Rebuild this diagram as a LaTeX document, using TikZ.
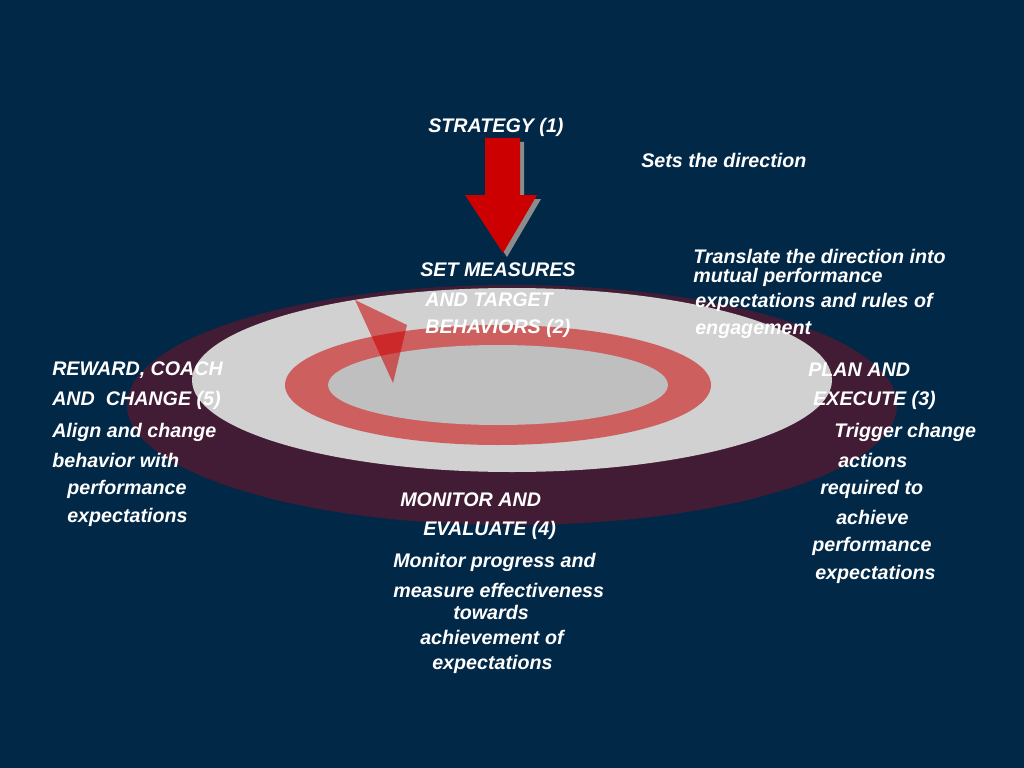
\documentclass[tikz,border=0pt]{standalone}
\usepackage{fontspec}
\setmainfont{Liberation Sans}
\definecolor{navy}{RGB}{2,40,72}
\definecolor{maroon}{RGB}{66,28,52}
\definecolor{ringred}{RGB}{205,95,95}
\definecolor{arrowred}{RGB}{204,0,0}
\begin{document}
\begin{tikzpicture}[x=0.025cm,y=-0.025cm,
	lbl/.style={anchor=west,text=white,inner sep=0pt,font=\fontsize{14}{16}\selectfont\bfseries\itshape},
]
	\fill[navy] (0,0) rectangle (1024,768);
	% rings
	\fill[maroon] (512,405) ellipse [x radius=385,y radius=120];
	\fill[black!18] (512,380) ellipse [x radius=320,y radius=92];
	\fill[ringred] (498,385) ellipse [x radius=213,y radius=60];
	\fill[black!25] (498,385) ellipse [x radius=170,y radius=40];
	\fill[arrowred,opacity=0.55] (355,300) -- (407,325) -- (393,383) -- cycle;
	% strategy arrow
	\fill[black!45] (489,142) -- (524,142) -- (524,199) -- (541,199) -- (507,257) -- (469,199) -- (489,199) -- cycle;
	\fill[arrowred] (485,138) -- (520,138) -- (520,195) -- (537,195) -- (503,253) -- (465,195) -- (485,195) -- cycle;
	% texts
	\foreach \x/\y/\t [count=\i] in {
		428/127/{STRATEGY (1)}, 641/160/{Sets the direction},
		693/256/{Translate the direction into}, 693/277/{mutual performance},
		695/302/{expectations and rules of}, 695/330/{engagement},
		420/270/{SET MEASURES}, 425/300/{AND TARGET}, 425/328/{BEHAVIORS (2)},
		52/370/{REWARD, COACH}, 52/400/{AND \ CHANGE (5)}, 52/432/{Align and change},
		52/460/{behavior with}, 67/489/{performance}, 67/517/{expectations},
		808/370/{PLAN AND}, 813/400/{EXECUTE (3)}, 834/432/{Trigger change},
		838/460/{actions}, 820/489/{required to}, 836/517/{achieve},
		812/546/{performance}, 815/574/{expectations},
		400/500/{MONITOR AND}, 423/530/{EVALUATE (4)}, 393/562/{Monitor progress and},
		393/590/{measure effectiveness}, 453/612/{towards}, 420/637/{achievement of},
		432/664/{expectations}}
		\node[lbl] (t\i) at (\x,\y) {\t};
\end{tikzpicture}
\end{document}
